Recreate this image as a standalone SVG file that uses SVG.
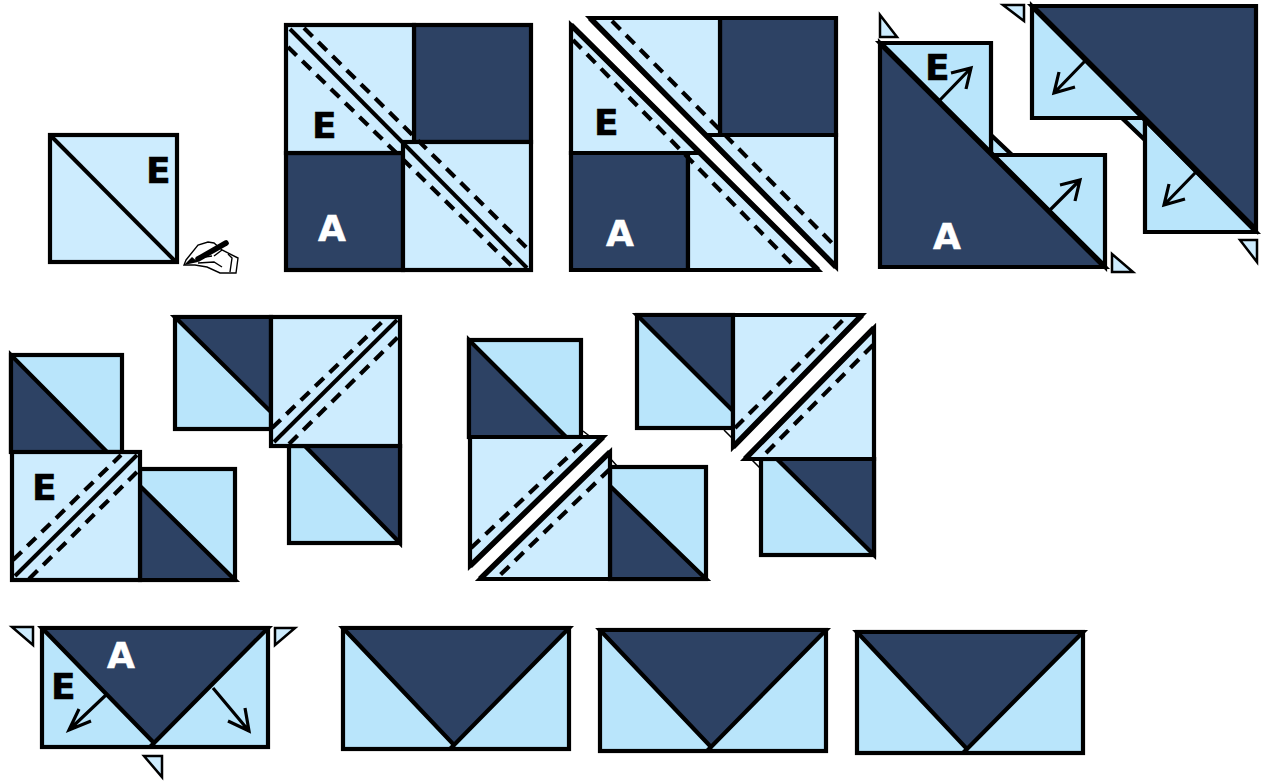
<svg xmlns="http://www.w3.org/2000/svg" width="1262" height="781" viewBox="0 0 1262 781">
<style>
.l{fill:#cdecfe;stroke:#000;stroke-width:4.2}
.m{fill:#b9e5fb;stroke:#000;stroke-width:4.2}
.d{fill:#2d4264;stroke:#000;stroke-width:4.2}
.s{fill:none;stroke:#000;stroke-width:4}
.t{fill:none;stroke:#000;stroke-width:5.5}
.h{fill:none;stroke:#000;stroke-width:4.2;stroke-dasharray:12 8}
.a{fill:none;stroke:#000;stroke-width:3.2}
.k{fill:#cdecfe;stroke:#000;stroke-width:2.5}
.w{fill:none;stroke:#000;stroke-width:1.5}
.o{fill:none;stroke:#000;stroke-width:4.2}
text{font-family:"DejaVu Sans",sans-serif;font-weight:700;font-size:36px;stroke-width:.5}
.e{fill:#000;stroke:#000}
.f{fill:#fff;stroke:#fff}
</style>
<g id="block1">
<rect class="l" x="50" y="135" width="127" height="127"/>
<path class="s" d="M52 137L176 262"/>
<text class="e" x="146" y="183">E</text>
<g id="hand">
<path fill="#fff" stroke="#000" stroke-width="1.4" d="M186 260L198 245L208 242L214 243L222 250L238 258L236 273L220 273L207 267L195 265L184 265Z"/>
<path fill="none" stroke="#000" stroke-width="1.4" d="M228 254L232 258L230 272M198 258L212 256M198 263L214 262L222 267M214 256L222 250"/>
<path fill="none" stroke="#000" stroke-width="5.5" stroke-linecap="round" d="M198 259L226 243"/>
<path fill="#000" d="M184 265L192 257L198 262Z"/>
</g>
</g>
<g id="block2">
<rect class="d" x="414" y="25" width="117" height="117"/>
<rect class="d" x="286" y="153" width="117" height="117"/>
<rect class="l" x="286" y="25" width="128" height="128"/>
<rect class="l" x="403" y="142" width="128" height="128"/>
<path class="s" d="M290 29L527 268"/>
<path class="h" d="M304 28L530 251"/>
<path class="h" d="M288 47L516 270"/>
<text class="e" x="312" y="138">E</text>
<text class="f" x="318" y="241">A</text>
</g>
<g id="block3">
<path class="d" d="M720 18H836V135H720Z"/>
<path class="d" d="M571 153H688V270H571Z"/>
<path class="l" d="M590 18H720V135H836V267Z"/>
<path class="l" d="M571 25V153H688V270H818Z"/>
<path class="o" d="M707 135H720M688 153H702"/>
<path class="t" d="M590 18L836 267M571 25L818 270"/>
<path class="h" d="M612 21L834 245"/>
<path class="h" d="M573 40L796 268"/>
<text class="e" x="594" y="135">E</text>
<text class="f" x="606" y="246">A</text>
</g>
<g id="block4">
<path class="k" d="M880 15V37H897Z"/>
<path class="k" d="M1112 254V272H1133Z"/>
<path class="m" d="M991 135L1012 155H991Z"/>
<path class="m" d="M880 43H991V155H1105V267Z"/>
<path class="d" d="M880 43V267H1105Z"/>
<path class="t" d="M880 43L1105 267"/>
<path class="a" d="M940 100L971 68M951 73L971 68L966 89M1049 211L1080 180M1060 185L1080 180L1075 201"/>
<text class="e" x="925" y="80">E</text>
<text class="f" x="933" y="249">A</text>
</g>
<g id="block5">
<path class="k" d="M1003 5H1024V21Z"/>
<path class="k" d="M1240 240H1257V262Z"/>
<path class="m" d="M1122 118H1145V140Z"/>
<path class="m" d="M1032 6V118H1145V232H1256Z"/>
<path class="d" d="M1032 6H1256V230Z"/>
<path class="t" d="M1032 6L1256 230"/>
<path class="a" d="M1086 60L1054 93M1059 72L1054 93L1075 87M1196 172L1164 205M1169 184L1164 205L1185 199"/>
</g>
<g id="block6">
<rect class="m" x="11" y="355" width="111" height="97"/>
<path class="d" d="M11 355V452H107Z"/>
<rect class="m" x="140" y="469" width="95" height="111"/>
<path class="d" d="M140 486L235 580H140Z"/>
<rect class="l" x="12" y="452" width="128" height="128"/>
<path class="s" d="M15 576L137 455"/>
<path class="h" d="M13 560L121 455"/>
<path class="h" d="M29 579L139 470"/>
<text class="e" x="32" y="500">E</text>
</g>
<g id="block7">
<rect class="m" x="175" y="317" width="96" height="112"/>
<path class="d" d="M175 317H271V412Z"/>
<rect class="m" x="289" y="446" width="111" height="97"/>
<path class="d" d="M305 446H400V543Z"/>
<rect class="l" x="271" y="317" width="129" height="129"/>
<path class="s" d="M274 442L397 320"/>
<path class="h" d="M272 428L384 320"/>
<path class="h" d="M289 444L399 336"/>
</g>
<g id="block8">
<path class="w" d="M583 431L592 438M608 456L618 467"/>
<rect class="m" x="469" y="340" width="112" height="97"/>
<path class="d" d="M469 340V437H566Z"/>
<rect class="m" x="610" y="467" width="96" height="112"/>
<path class="d" d="M610 486L706 579H610Z"/>
<path class="l" d="M470 437H603L470 566Z"/>
<path class="l" d="M610 452V579H480Z"/>
<path class="t" d="M603 437L470 566M610 452L480 579"/>
<path class="h" d="M471 548L587 439"/>
<path class="h" d="M610 469L497 578"/>
</g>
<g id="block9">
<path class="w" d="M724 430L733 439M752 460L761 469"/>
<rect class="m" x="637" y="315" width="96" height="113"/>
<path class="d" d="M637 315H733V411Z"/>
<rect class="m" x="761" y="459" width="113" height="96"/>
<path class="d" d="M777 459H874V555Z"/>
<path class="l" d="M733 315H862L733 447Z"/>
<path class="l" d="M874 328V459H745Z"/>
<path class="t" d="M862 315L733 447M874 328L745 459"/>
<path class="h" d="M735 428L846 317"/>
<path class="h" d="M873 345L762 457"/>
</g>
<g id="block10">
<path class="k" d="M12 627H33V645Z"/>
<path class="k" d="M275 628H295L275 645Z"/>
<path class="k" d="M144 756H162V777Z"/>
<rect class="m" x="42" y="628" width="226" height="119"/>
<path class="d" d="M42 628H268L154 743Z"/>
<path class="o" d="M154 743L150 747"/>
<path class="a" d="M107 694L69 730M79 709L69 730L91 721M213 688L249 731M228 721L249 731L245 708"/>
<text class="f" x="107" y="668">A</text>
<text class="e" x="51" y="699">E</text>
</g>
<g id="block11">
<rect class="m" x="343" y="628" width="226" height="121"/>
<path class="d" d="M343 628H569L454 745Z"/>
<path class="o" d="M454 745L450 749"/>
</g>
<g id="block12">
<rect class="m" x="600" y="630" width="226" height="121"/>
<path class="d" d="M600 630H826L711 747Z"/>
<path class="o" d="M711 747L707 751"/>
</g>
<g id="block13">
<rect class="m" x="857" y="632" width="226" height="121"/>
<path class="d" d="M857 632H1083L967 749Z"/>
<path class="o" d="M967 749L963 753"/>
</g>
<g id="connectors"/>
</svg>
